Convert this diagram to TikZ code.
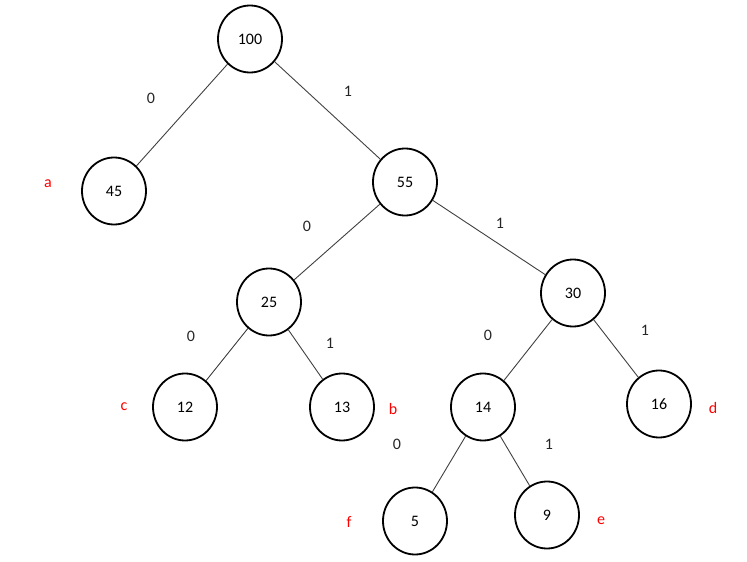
\documentclass[tikz,border=0pt]{standalone}
\usepackage{fontspec}
\usetikzlibrary{shapes.geometric}
\setmainfont{Carlito}
\begin{document}
\begin{tikzpicture}[x=1pt,y=-1pt,
  hnode/.style={draw=black,line width=1.8pt,ellipse,minimum width=64pt,minimum height=67pt,inner sep=0pt,font=\fontsize{16}{16}\selectfont},
  edge/.style={draw=black!75,line width=0.9pt},
  bit/.style={font=\fontsize{16}{16}\selectfont,text=black!85},
  sym/.style={font=\fontsize{16}{16}\selectfont,text=red}]
\useasboundingbox (0,0) rectangle (747,562);
\node[hnode] (n100) at (250,39) {100};
\node[hnode] (n45) at (114,191) {45};
\node[hnode] (n55) at (405,182) {55};
\node[hnode] (n25) at (269,302) {25};
\node[hnode] (n30) at (573,293) {30};
\node[hnode] (n12) at (185,407) {12};
\node[hnode] (n13) at (342,407) {13};
\node[hnode] (n14) at (483,407) {14};
\node[hnode] (n16) at (659,404) {16};
\node[hnode] (n5) at (415,521) {5};
\node[hnode] (n9) at (547,515) {9};
\draw[edge] (n100) -- (n45);
\draw[edge] (n100) -- (n55);
\draw[edge] (n55) -- (n25);
\draw[edge] (n55) -- (n30);
\draw[edge] (n25) -- (n12);
\draw[edge] (n25) -- (n13);
\draw[edge] (n30) -- (n14);
\draw[edge] (n30) -- (n16);
\draw[edge] (n14) -- (n5);
\draw[edge] (n14) -- (n9);
\node[bit] (b1) at (151,98) {0};
\node[bit] (b2) at (348,91) {1};
\node[bit] (b3) at (307,226) {0};
\node[bit] (b4) at (500,223) {1};
\node[bit] (b5) at (191,336) {0};
\node[bit] (b6) at (330,343) {1};
\node[bit] (b7) at (488,335) {0};
\node[bit] (b8) at (645,330) {1};
\node[bit] (b9) at (397,444) {0};
\node[bit] (b10) at (549,444) {1};
\node[sym] (sa) at (48,184) {a};
\node[sym] (sc) at (124,407) {c};
\node[sym] (sb) at (393,409) {b};
\node[sym] (sd) at (713,408) {d};
\node[sym] (sf) at (349,522) {f};
\node[sym] (se) at (601,521) {e};
\end{tikzpicture}
\end{document}
